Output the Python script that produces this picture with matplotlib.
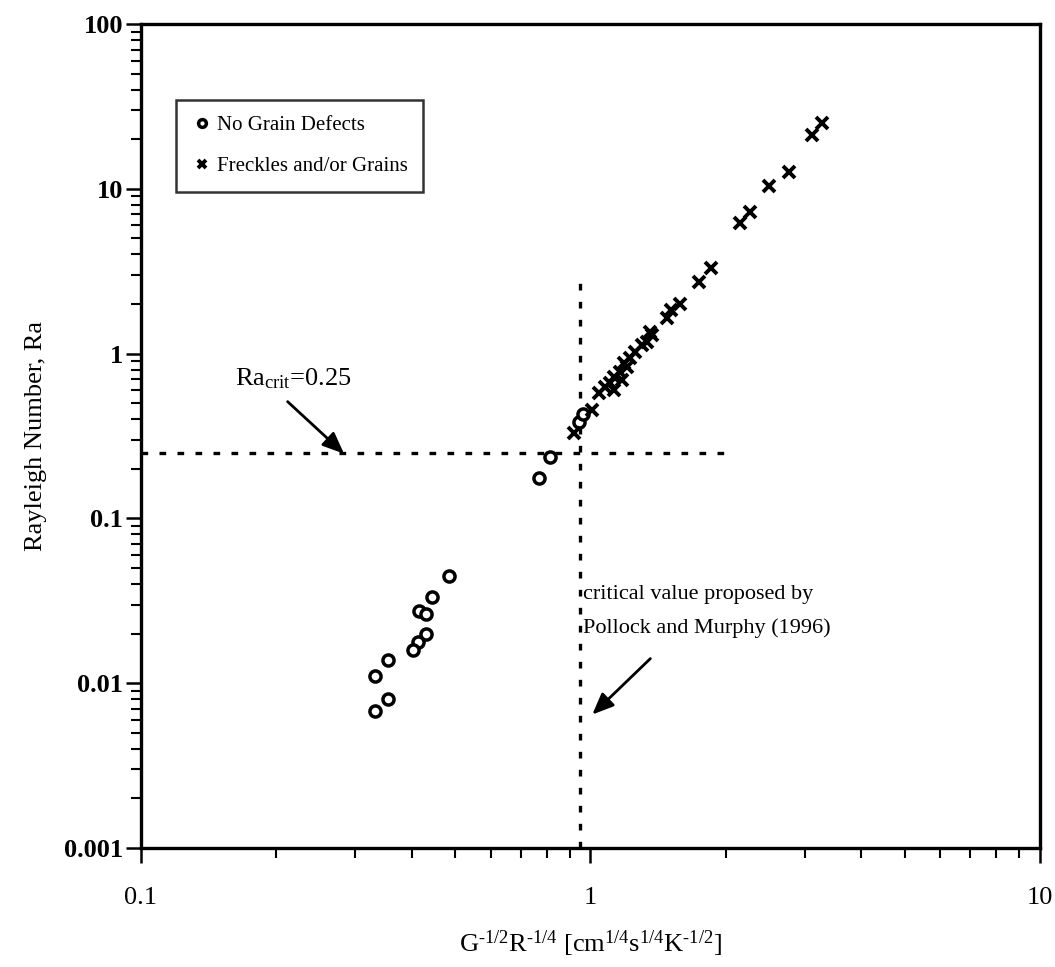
import matplotlib
matplotlib.use("Agg")
import matplotlib.pyplot as plt

plt.rcParams['font.family'] = ['Liberation Serif', 'DejaVu Serif']
plt.rcParams['mathtext.fontset'] = 'custom'
plt.rcParams['mathtext.rm'] = 'Liberation Serif'
plt.rcParams['mathtext.it'] = 'Liberation Serif'

# --- data ---
no_defect_x = [0.485, 0.445, 0.416, 0.431, 0.430, 0.414, 0.402, 0.354, 0.332, 0.354, 0.332,
               0.767, 0.815, 0.942, 0.965]
no_defect_y = [0.0448, 0.0335, 0.0273, 0.0262, 0.0199, 0.0177, 0.0159, 0.0139, 0.0110, 0.0080, 0.0068,
               0.175, 0.237, 0.387, 0.430]

freckle_x = [0.918, 1.009, 1.043, 1.080, 1.108, 1.127, 1.127, 1.176, 1.166, 1.207, 1.186, 1.227,
             1.259, 1.303, 1.337, 1.359, 1.371, 1.480, 1.510, 1.585, 1.741, 1.854, 2.154, 2.268,
             2.50, 2.77, 3.11, 3.28]
freckle_y = [0.328, 0.455, 0.574, 0.630, 0.660, 0.602, 0.725, 0.692, 0.778, 0.834, 0.873, 0.936,
             1.028, 1.129, 1.183, 1.36, 1.30, 1.637, 1.85, 2.01, 2.71, 3.32, 6.18, 7.27,
             10.46, 12.7, 21.3, 25.2]

ra_crit = 0.25
ra_line_x = [0.1, 2.0]
x_crit = 0.95
x_crit_line_y = [0.001, 3.0]

legend_labels = ["No Grain Defects", "Freckles and/or Grains"]
x_tick_vals = [0.1, 1, 10]
x_tick_labels = ["0.1", "1", "10"]
y_tick_vals = [0.001, 0.01, 0.1, 1, 10, 100]
y_tick_labels = ["0.001", "0.01", "0.1", "1", "10", "100"]

fig = plt.figure(figsize=(10.55, 9.67), dpi=100)
ax = fig.add_axes([0.1336, 0.1231, 0.852, 0.8521])
ax.set_xscale('log')
ax.set_yscale('log')
ax.set_xlim(0.1, 10)
ax.set_ylim(0.001, 100)

ax.plot(no_defect_x, no_defect_y, linestyle='none', marker='o', markersize=8,
        markerfacecolor='white', markeredgecolor='black', markeredgewidth=2.5,
        label=legend_labels[0], zorder=3)
ax.plot(freckle_x, freckle_y, linestyle='none', marker='x', markersize=9,
        color='black', markeredgewidth=2.8, label=legend_labels[1], zorder=3)

ax.plot(ra_line_x, [ra_crit, ra_crit], color='black', linewidth=2.4,
        linestyle=(0, (2.0, 3.4)), zorder=2)
ax.plot([x_crit, x_crit], x_crit_line_y, color='black', linewidth=2.4,
        linestyle=(0, (2.0, 3.4)), zorder=2)

ax.annotate("", xy=(0.283, 0.247), xytext=(0.212, 0.511),
            arrowprops=dict(arrowstyle='-|>,head_length=1.3,head_width=0.55',
                            color='black', lw=2, shrinkA=0, shrinkB=0))
ax.text(0.218, 0.70, r"Ra$_{\mathregular{crit}}$=0.25", fontsize=19, ha='center', va='center')

ax.annotate("", xy=(1.01, 0.00645), xytext=(1.36, 0.0141),
            arrowprops=dict(arrowstyle='-|>,head_length=1.3,head_width=0.55',
                            color='black', lw=2, shrinkA=0, shrinkB=0))
ax.text(0.965, 0.0272, "critical value proposed by\nPollock and Murphy (1996)",
        fontsize=16, ha='left', va='center', linespacing=1.95)

ax.set_xticks(x_tick_vals)
ax.set_xticklabels(x_tick_labels, fontsize=19)
ax.set_yticks(y_tick_vals)
ax.set_yticklabels(y_tick_labels, fontsize=19, fontweight='bold')
ax.tick_params(axis='both', which='major', direction='out', length=11, width=1.8)
ax.tick_params(axis='both', which='minor', direction='out', length=7, width=1.5)
ax.tick_params(axis='x', which='major', pad=17)
ax.tick_params(axis='y', which='major', pad=2)

for s in ax.spines.values():
    s.set_linewidth(2.4)

hy = "\u2010"
ax.set_xlabel("G$^{\\mathregular{" + hy + "1/2}}$R$^{\\mathregular{" + hy + "1/4}}$ "
              "[cm$^{\\mathregular{1/4}}$s$^{\\mathregular{1/4}}$K$^{\\mathregular{" + hy + "1/2}}$]",
              fontsize=19, labelpad=14)
ax.set_ylabel("Rayleigh Number, Ra", fontsize=19, labelpad=12)

leg = ax.legend(loc='upper left', bbox_to_anchor=(0.039, 0.908), fontsize=15,
                frameon=True, fancybox=False, edgecolor='black', borderpad=0.75,
                labelspacing=1.05, handletextpad=0.2, handlelength=1.0,
                markerscale=0.7, borderaxespad=0)
leg.get_frame().set_linewidth(1.8)

fig.savefig("out.png", dpi=100)
